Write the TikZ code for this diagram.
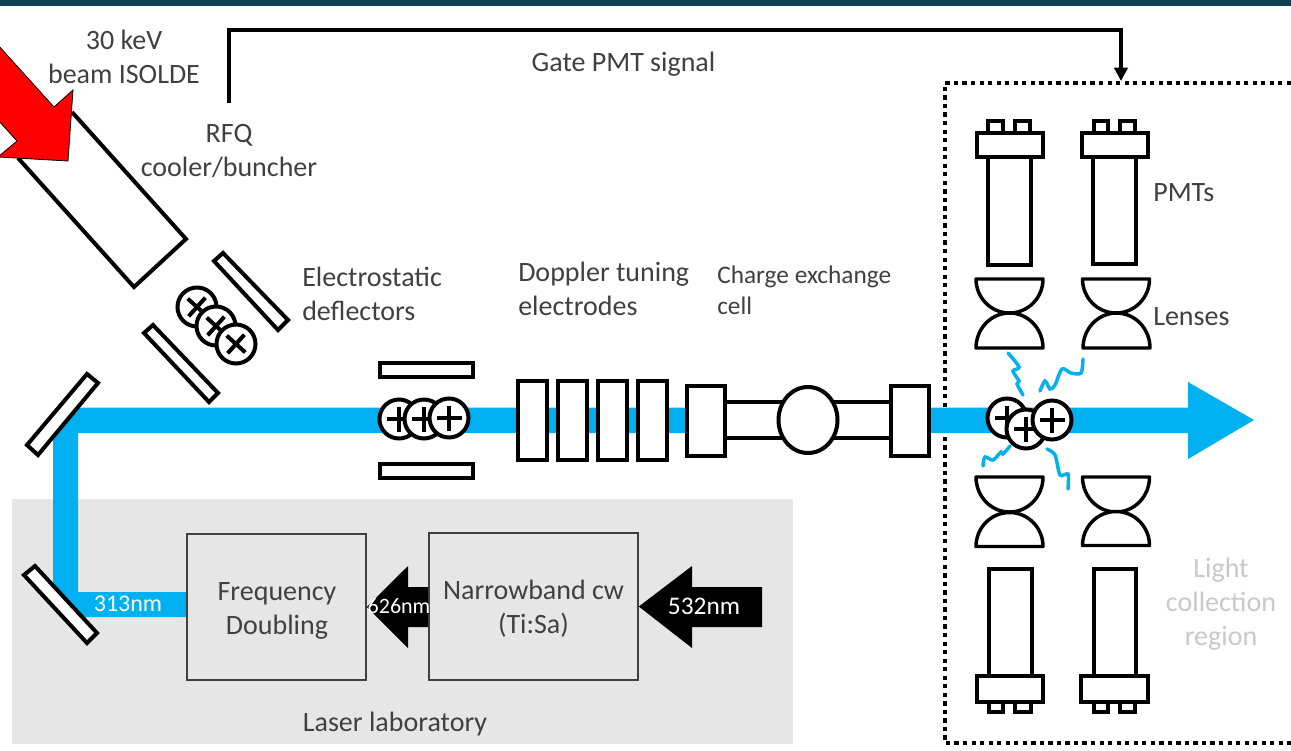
\documentclass[tikz,border=0pt]{standalone}
\usepackage{fontspec}
\setmainfont{Carlito}
\usetikzlibrary{arrows.meta}
\definecolor{beamblue}{HTML}{00B0F0}
\definecolor{inktext}{HTML}{404040}
\definecolor{headbar}{HTML}{123F55}
\definecolor{labgrey}{HTML}{E6E6E6}
\definecolor{faint}{HTML}{C9C9C9}
\newcommand{\pxu}{0.75pt}
\newcommand{\ionat}[3]{%
  \node[ioncircle] (#1) at (#2) {};
  \draw[ionplus] (#1.center) ++(#3:12.5) -- ++(#3+180:25);
  \draw[ionplus] (#1.center) ++(#3+90:12.5) -- ++(#3+270:25);
}
\newcommand{\lensdown}[3]{% flat side at y=#2 centre x=#1, bulge towards +y by #3
  \draw[lenspart] (#1-33.5,#2) -- (#1+33.5,#2) arc[start angle=0,end angle=180,x radius=33.5,y radius=#3] -- cycle;}
\newcommand{\lensup}[3]{% flat side at y=#2, bulge towards -y by #3
  \draw[lenspart] (#1-33.5,#2) -- (#1+33.5,#2) arc[start angle=0,end angle=-180,x radius=33.5,y radius=#3] -- cycle;}
\tikzset{
  part/.style={draw=black,line width=3pt,fill=white,line join=miter},
  lenspart/.style={draw=black,line width=2.6pt,fill=white,line join=round},
  ioncircle/.style={circle,draw=black,line width=3pt,fill=white,minimum size=39*\pxu,inner sep=0pt},
  ionplus/.style={draw=black,line width=3pt},
  labelt/.style={text=inktext,font=\fontsize{21pt}{25.5pt}\selectfont,inner sep=0pt},
  labelc/.style={labelt,align=center},
  labell/.style={labelt,align=left,anchor=west},
  smalll/.style={labell,font=\fontsize{19pt}{23pt}\selectfont},
  labbox/.style={draw=inktext,line width=1.2pt,fill=labgrey,text=inktext,align=center,inner sep=0pt,font=\fontsize{21pt}{25.5pt}\selectfont},
  photon/.style={draw=beamblue,line width=2.6pt,smooth,line cap=round},
  beamtext/.style={text=white,inner sep=0pt}
}
\begin{document}
\begin{tikzpicture}[x=0.75pt,y=-0.75pt]
\useasboundingbox (0,0) rectangle (1291,750);
\fill[white] (0,0) rectangle (1291,750);
\fill[headbar] (0,0) rectangle (1291,5.5);
% laser lab
\fill[labgrey] (12,499) rectangle (793,744);
% light collection region
\draw[line width=3pt,dash pattern=on 3.2pt off 3.2pt] (1291,83) -- (945,83) -- (945,743) -- (1291,743);
% beam
\fill[beamblue] (187,592) -- (78,592) -- (78,433) -- (1188,433) -- (1188,459) -- (1254,420) -- (1188,382) -- (1188,407.5) -- (78,407.5) -- (53,437) -- (53,585) -- (82,617) -- (187,617) -- cycle;
% mirrors
\draw[part] (87,374) -- (98,383) -- (38,455) -- (27,445) -- cycle;
\draw[part] (24,575) -- (35,566) -- (97,633) -- (87,643) -- cycle;
% RFQ
\draw[part,fill=none] (72,112) -- (186,239) -- (134,287) -- (18,158);
% red ISOLDE arrow
\draw[draw=black,line width=0.6pt,fill=red] (-2,45) -- (54,107) -- (73,90) -- (68,161) -- (-2,157) -- (17,141) -- (-2,120);
% electrostatic deflector plates
\draw[part] (223,253) -- (214,261) -- (278,330) -- (288,320) -- cycle;
\draw[part] (153,325) -- (144,333) -- (209,402) -- (218,393) -- cycle;
\ionat{dia}{197,307}{42}
\ionat{dib}{216,326}{42}
\ionat{dic}{236,344}{42}
% horizontal plates
\draw[part] (379.5,362.5) rectangle (472.5,376.5);
\draw[part] (379.5,463.5) rectangle (472.5,477.5);
\ionat{bia}{399,419}{0}
\ionat{bib}{424,419}{0}
\ionat{bic}{449,418}{0}
% Doppler electrodes
\draw[part] (517.5,381) rectangle (546.5,460);
\draw[part] (557.5,381) rectangle (586.5,460);
\draw[part] (597.5,381) rectangle (626.5,460);
\draw[part] (637.5,381) rectangle (666.5,460);
% charge exchange cell
\draw[part] (725,402) rectangle (891,438);
\draw[part] (808,420) ellipse[x radius=29.5,y radius=33];
\draw[part] (687,386) rectangle (725,456);
\draw[part] (891,386) rectangle (929,456);
% top PMTs
\draw[part] (988,121) rectangle (1003,133);
\draw[part] (1015,121) rectangle (1030,133);
\draw[part] (1094,121) rectangle (1108,133);
\draw[part] (1120,121) rectangle (1135,133);
\draw[part] (987.5,156) rectangle (1031,265);
\draw[part] (1092.5,156) rectangle (1135.5,264);
\draw[part] (976.5,132.5) rectangle (1043,156.5);
\draw[part] (1081.5,132.5) rectangle (1148,156.5);
% lenses
\lensdown{1009.5}{279}{34}
\lensdown{1116}{279}{34}
\lensup{1009.5}{348}{35}
\lensup{1116.5}{348}{35}
\lensdown{1009.5}{477}{35}
\lensdown{1116}{477}{35}
\lensup{1009.5}{546.5}{34}
\lensup{1116}{545.5}{34}
% bottom PMTs
\draw[part] (989,701) rectangle (1003,712);
\draw[part] (1015,701) rectangle (1031,712);
\draw[part] (1094,701) rectangle (1108,712);
\draw[part] (1120,701) rectangle (1135,712);
\draw[part] (988.5,569) rectangle (1032,676);
\draw[part] (1093.5,569) rectangle (1136,676);
\draw[part] (976.5,675.5) rectangle (1043,701.5);
\draw[part] (1080.5,675.5) rectangle (1148,701.5);
% photons
\draw[photon] plot coordinates {(1008,353) (1019,367) (1013,371) (1019,381) (1017,384) (1023,395)};
\draw[photon] plot coordinates {(1083,359) (1081,373) (1071,373) (1062,369) (1055,385) (1050,389) (1045,381) (1040,391)};
\draw[photon] plot coordinates {(983,466) (985,457) (993,460) (1001,452) (1003,454) (1010,446)};
\draw[photon] plot coordinates {(1068,489) (1068,474) (1060,475) (1055,455) (1047,449)};
% ions in light collection region
\ionat{lia}{1007,418}{0}
\ionat{lib}{1026,429}{0}
\ionat{lic}{1052,420}{0}
% gate signal
\coordinate (gatestart) at (229,103);
\coordinate (gateend) at (1121,81);
\draw[black,line width=2.4pt,-{Triangle[length=10pt,width=10pt]}] (gatestart) |- (1121,30) -- (gateend);
% lab boxes
\node[labbox,minimum width=179*\pxu,minimum height=146*\pxu,text depth=0pt] (fd) at (276.5,607) {};
\node[labbox,minimum width=209*\pxu,minimum height=147*\pxu] (nb) at (533.5,606.5) {};
\node[labelc] (tfd) at (277,610.5) {Frequency\\Doubling};
\node[labelc] (tnb) at (533.5,609) {Narrowband cw\\(Ti:Sa)};
% black arrows
\fill[black] (fd.east) -- (408,566) -- (408,587) -- (nb.west |- 0,587) -- (nb.west |- 0,627) -- (408,627) -- (408,648) -- cycle;
\fill[black] (nb.east) -- (692,566) -- (692,587) -- (762,587) -- (762,627) -- (692,627) -- (692,648) -- cycle;
\node[beamtext,font=\fontsize{18pt}{20pt}\selectfont] (l313) at (128,604) {313nm};
\node[beamtext,font=\fontsize{16.5pt}{20pt}\selectfont] (l626) at (399,606) {626nm};
\node[beamtext,font=\fontsize{19pt}{20pt}\selectfont] (l532) at (704,606) {532nm};
% labels
\node[labelc] (t30) at (124,57) {30 keV\\beam ISOLDE};
\node[labelc] (trfq) at (229,151) {RFQ\\cooler/buncher};
\node[labelc] (tgate) at (623.5,64) {Gate PMT signal};
\node[labell] (tele) at (302,294) {Electrostatic\\deflectors};
\node[labell] (tdop) at (518,289) {Doppler tuning\\electrodes};
\node[smalll] (tcec) at (717,290) {Charge exchange\\cell};
\node[labell] (tpmt) at (1153,193) {PMTs};
\node[labell] (tlen) at (1153,317) {Lenses};
\node[labelc,text=faint] (tlight) at (1221,604) {Light\\collection\\region};
\node[labelc] (tlab) at (395,724) {Laser laboratory};
\end{tikzpicture}
\end{document}
